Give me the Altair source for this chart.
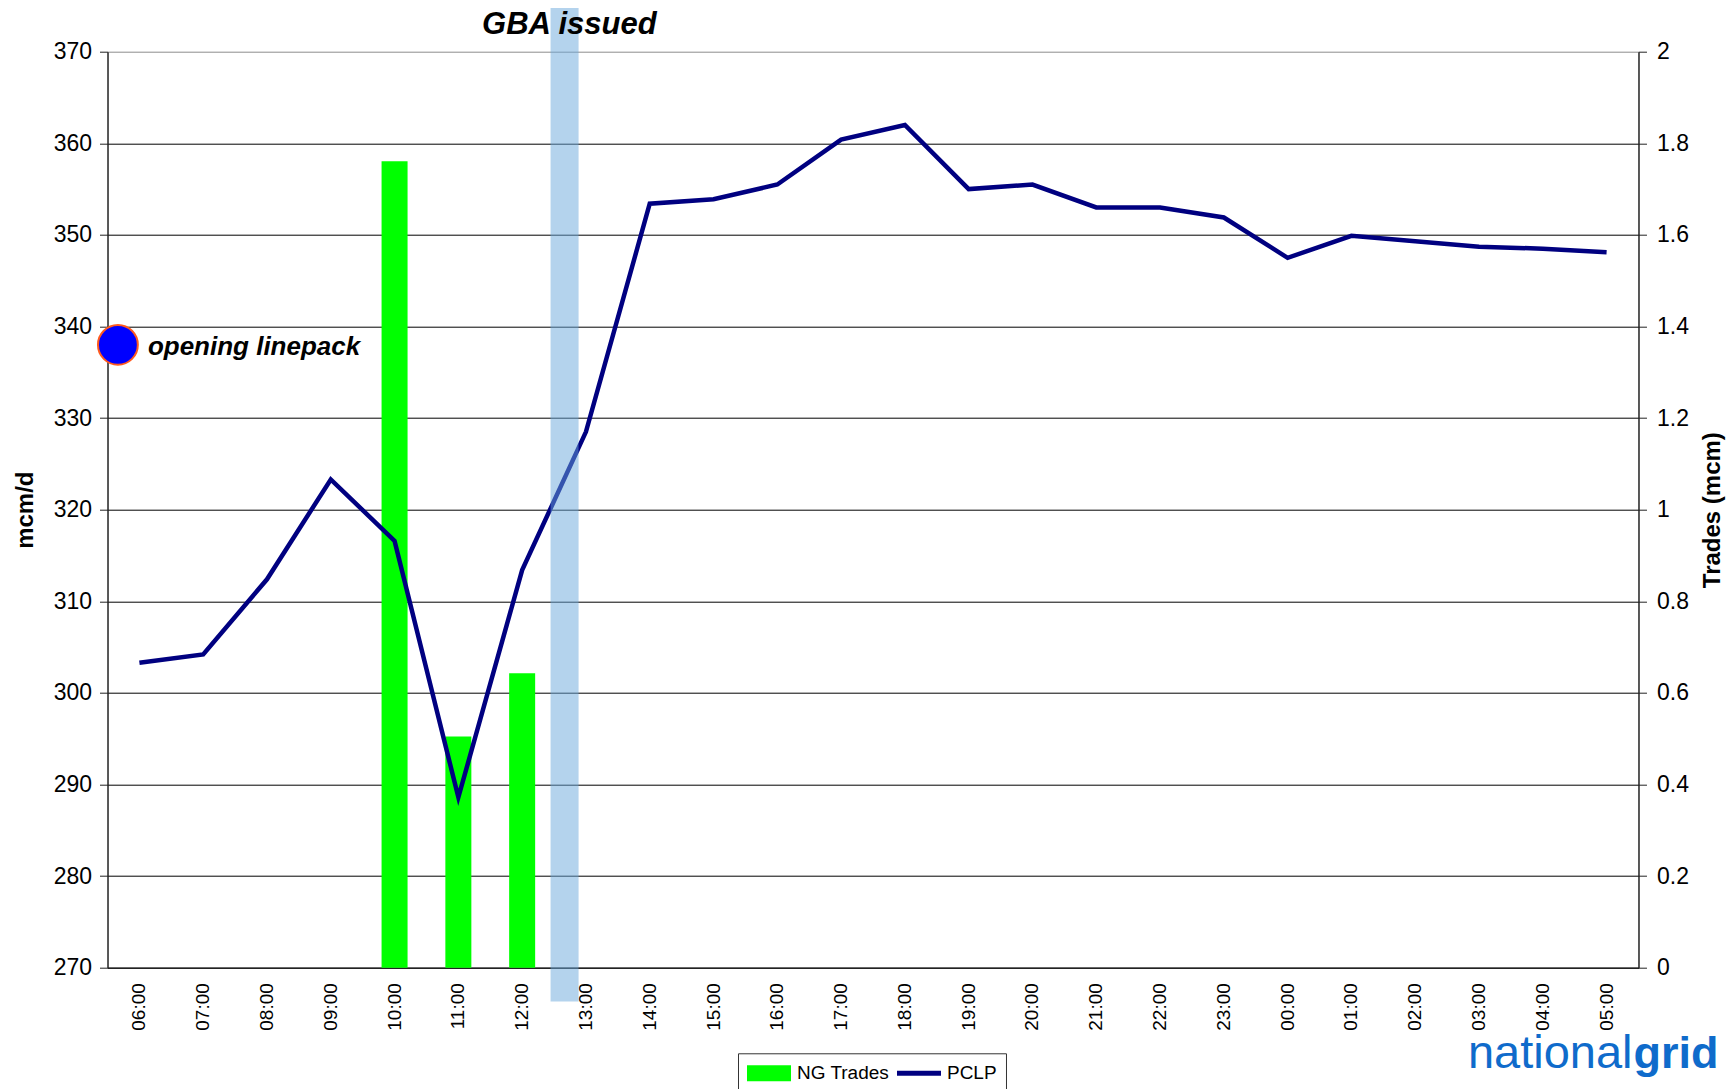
import altair as alt
import pandas as pd

# ---------------- data ----------------
hours = ["06:00", "07:00", "08:00", "09:00", "10:00", "11:00", "12:00", "13:00",
         "14:00", "15:00", "16:00", "17:00", "18:00", "19:00", "20:00", "21:00",
         "22:00", "23:00", "00:00", "01:00", "02:00", "03:00", "04:00", "05:00"]
pclp_values = [303.3, 304.2, 312.4, 323.3, 316.6, 288.6, 313.4, 328.5,
               353.4, 353.9, 355.5, 360.4, 362.0, 355.0, 355.5, 353.0,
               353.0, 351.9, 347.5, 349.9, 349.3, 348.7, 348.5, 348.1]
trade_hours = ["10:00", "11:00", "12:00"]
trade_values = [1.761, 0.505, 0.643]
series_names = ["NG Trades", "PCLP"]
series_colors = ["#00ff00", "#000080"]
left_ticks = [270, 280, 290, 300, 310, 320, 330, 340, 350, 360, 370]
right_ticks = [0, 0.2, 0.4, 0.6, 0.8, 1, 1.2, 1.4, 1.6, 1.8, 2]
opening_hour = ["06:00"]
opening_value = [338.0]
opening_text = ["opening linepack"]
gba_hour = ["13:00"]
gba_text = ["GBA issued"]
gba_top = 375.1
gba_bottom = 266.3
gba_text_level = 372.9

FONT = "Liberation Sans"
W, H = 1531, 916

line_df = pd.DataFrame({"hour": hours, "value": pclp_values, "series": "PCLP"})
bar_df = pd.DataFrame({"hour": trade_hours, "value": trade_values, "series": "NG Trades"})
open_df = pd.DataFrame({"hour": opening_hour, "value": opening_value, "label": opening_text})
gba_df = pd.DataFrame({"hour": gba_hour, "label": gba_text})

x_scale = alt.Scale(domain=hours, paddingInner=0, paddingOuter=0)
left_scale = alt.Scale(domain=[270, 370], nice=False, zero=False)
right_scale = alt.Scale(domain=[0, 2], nice=False)
color_scale = alt.Scale(domain=series_names, range=series_colors)

x_axis = alt.Axis(
    title=None, labelAngle=-90, ticks=False, labelPadding=15,
    domainColor="#222222", domainWidth=1.5,
    labelFont=FONT, labelFontSize=19, labelColor="black")

left_axis = alt.Axis(
    orient="left", title="mcm/d", values=left_ticks, format="d",
    grid=True,
    gridColor={"condition": {"test": "datum.value == 370", "value": "#8c8c8c"}, "value": "#000000"},
    gridWidth=1, domainColor="#222222", domainWidth=1.5,
    tickColor="#222222", tickSize=8, labelPadding=8,
    labelFont=FONT, labelFontSize=23, labelColor="black",
    titleFont=FONT, titleFontSize=24, titleFontWeight="bold", titleColor="black",
    titlePadding=16)

right_axis = alt.Axis(
    orient="right", title="Trades (mcm)", values=right_ticks, format=".1~f",
    grid=False, domainColor="#222222", domainWidth=1.5,
    tickColor="#222222", tickSize=8, labelPadding=10,
    labelFont=FONT, labelFontSize=23, labelColor="black",
    titleFont=FONT, titleFontSize=24, titleFontWeight="bold", titleColor="black",
    titleAngle=270, titleBaseline="top", titlePadding=12)

legend = alt.Legend(
    title=None, orient="none", legendX=630.5, legendY=1001.6,
    direction="horizontal", columns=2,
    symbolType={"expr": "datum.value == 'PCLP' ? 'M-2,-0.22L2,-0.22L2,0.22L-2,0.22Z' : 'M-2,-0.72L2,-0.72L2,0.72L-2,0.72Z'"},
    symbolSize=484, symbolStrokeWidth=0, symbolOffset=11, symbolOpacity=1,
    labelOffset=17, columnPadding=7, padding=9,
    labelFont=FONT, labelFontSize=19, labelColor="black",
    strokeColor="#333333", fillColor="white",
)

bars = alt.Chart(bar_df).mark_bar(size=26).encode(
    x=alt.X("hour:O", scale=x_scale, axis=x_axis),
    y=alt.Y("value:Q", scale=right_scale, axis=right_axis),
    color=alt.Color("series:N", scale=color_scale, legend=legend),
)

line = alt.Chart(line_df).mark_line(strokeWidth=4.5).encode(
    x=alt.X("hour:O", scale=x_scale, axis=x_axis),
    y=alt.Y("value:Q", scale=left_scale, axis=left_axis),
    color=alt.Color("series:N", scale=color_scale, legend=legend),
)

band = alt.Chart(gba_df).mark_rule(strokeWidth=28, color="#6aa7dc", opacity=0.5).encode(
    x=alt.X("hour:O", scale=x_scale, bandPosition=0.165, axis=x_axis),
    y=alt.Y(datum=gba_top, type="quantitative", scale=left_scale, axis=left_axis),
    y2=alt.Y2(datum=gba_bottom),
)

gba_label = alt.Chart(gba_df).mark_text(
    font=FONT, fontSize=31, fontWeight="bold", fontStyle="italic",
    color="black", align="center", baseline="middle",
).encode(
    x=alt.X("hour:O", scale=x_scale, bandPosition=0.24, axis=x_axis),
    y=alt.Y(datum=gba_text_level, type="quantitative", scale=left_scale, axis=left_axis),
    text="label:N",
)

opening_dot = alt.Chart(open_df).mark_circle(
    size=1590, color="#0000ff", opacity=1, stroke="#ff5a1e", strokeWidth=2,
).encode(
    x=alt.X("hour:O", scale=x_scale, bandPosition=0.163, axis=x_axis),
    y=alt.Y("value:Q", scale=left_scale, axis=left_axis),
)

opening_label = alt.Chart(open_df).mark_text(
    font=FONT, fontSize=26, fontWeight="bold", fontStyle="italic",
    color="black", align="left", baseline="middle", dx=30, dy=2,
).encode(
    x=alt.X("hour:O", scale=x_scale, bandPosition=0.163, axis=x_axis),
    y=alt.Y("value:Q", scale=left_scale, axis=left_axis),
    text="label:N",
)

logo_a = alt.Chart(pd.DataFrame({"t": ["national"]})).mark_text(
    font=FONT, fontSize=47, color="#0f6bcb", align="right", baseline="alphabetic",
).encode(x=alt.value(1525), y=alt.value(1016), text="t:N")

logo_b = alt.Chart(pd.DataFrame({"t": ["grid"]})).mark_text(
    font=FONT, fontSize=45, fontWeight="bold", color="#0f6bcb", align="left", baseline="alphabetic",
).encode(x=alt.value(1526), y=alt.value(1016), text="t:N")

left_group = alt.layer(line, band, opening_dot, opening_label, gba_label, logo_a, logo_b)

chart = alt.layer(bars, left_group).resolve_scale(y="independent").properties(
    width=W, height=H,
    autosize=alt.AutoSizeParams(type="none"),
    padding={"left": 99.5, "top": 43.7, "right": 89, "bottom": 140},
).configure_view(stroke="transparent")

chart.save("out.html", embed_options={"renderer": "svg", "actions": False})
